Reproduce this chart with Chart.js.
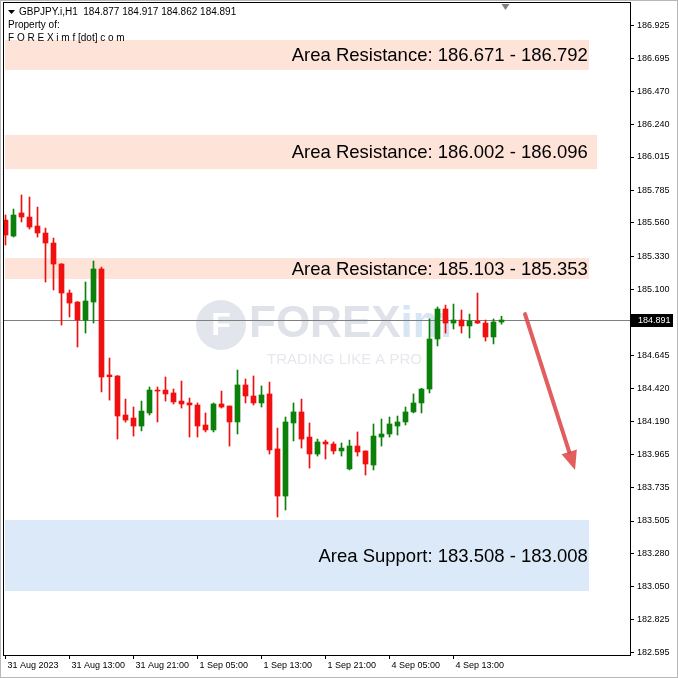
<!DOCTYPE html>
<html>
<head>
<meta charset="utf-8">
<script src="https://cdn.jsdelivr.net/npm/chart.js@4.4.0/dist/chart.umd.min.js"></script>
<style>
  html, body { margin: 0; padding: 0; background: #fff; }
</style>
</head>
<body>
<canvas id="myChart" width="678" height="678"></canvas>
<script>
// GBPJPY H1 candles (index 0 = first visible bar)
const opens = [185.580, 185.470, 185.629, 185.601, 185.539, 185.491, 185.422, 185.277, 185.077, 185.015,
  184.889, 185.015, 185.243, 184.512, 184.505, 184.236, 184.215, 184.160, 184.250, 184.408,
  184.408, 184.388, 184.332, 184.319, 184.305, 184.167, 184.133, 184.312, 184.298, 184.188,
  184.443, 184.367, 184.319, 184.381, 184.002, 183.677, 184.181, 184.257, 184.084, 183.967,
  184.050, 184.036, 183.988, 183.864, 184.022, 183.988, 183.891, 184.084, 184.105, 184.160,
  184.188, 184.257, 184.319, 184.415, 184.760, 184.967, 184.870, 184.891, 184.850, 184.884,
  184.870, 184.774, 184.877];
const highs = [185.615, 185.656, 185.753, 185.739, 185.670, 185.525, 185.456, 185.280, 185.098, 185.018,
  185.153, 185.298, 185.256, 184.629, 184.508, 184.346, 184.291, 184.332, 184.429, 184.429,
  184.498, 184.415, 184.470, 184.353, 184.319, 184.250, 184.319, 184.401, 184.298, 184.546,
  184.484, 184.505, 184.436, 184.463, 184.146, 184.222, 184.319, 184.346, 184.181, 184.070,
  184.063, 184.050, 184.043, 184.063, 184.119, 183.988, 184.174, 184.208, 184.222, 184.229,
  184.291, 184.381, 184.420, 184.898, 184.981, 184.994, 185.001, 184.960, 184.932, 185.077,
  184.891, 184.898, 184.917];
const lows = [185.408, 185.463, 185.567, 185.518, 185.463, 185.153, 185.098, 184.856, 184.912, 184.705,
  184.801, 184.870, 184.395, 184.339, 184.070, 184.187, 184.091, 184.126, 184.236, 184.188,
  184.332, 184.312, 184.284, 184.084, 184.084, 184.119, 184.119, 184.284, 184.022, 184.105,
  184.319, 184.305, 184.291, 183.967, 183.533, 183.581, 184.057, 184.008, 183.870, 183.953,
  183.932, 183.967, 183.953, 183.857, 183.953, 183.822, 183.857, 184.022, 184.084, 184.098,
  184.167, 184.250, 184.250, 184.388, 184.712, 184.801, 184.829, 184.801, 184.767, 184.867,
  184.746, 184.726, 184.862];
const closes = [185.477, 185.615, 185.601, 185.532, 185.491, 185.422, 185.277, 185.077, 185.008, 184.891,
  185.022, 185.243, 184.498, 184.500, 184.229, 184.201, 184.160, 184.263, 184.408, 184.401,
  184.381, 184.326, 184.312, 184.305, 184.160, 184.133, 184.312, 184.291, 184.188, 184.443,
  184.367, 184.319, 184.374, 183.995, 183.677, 184.188, 184.257, 184.070, 183.967, 184.050,
  184.036, 183.988, 184.008, 184.022, 183.981, 183.898, 184.091, 184.105, 184.174, 184.188,
  184.257, 184.319, 184.415, 184.760, 184.967, 184.870, 184.891, 184.850, 184.884, 184.870,
  184.774, 184.877, 184.891];

// axis labels
const priceTicks = [186.925, 186.695, 186.470, 186.240, 186.015, 185.785, 185.560, 185.330, 185.100,
  184.645, 184.420, 184.190, 183.965, 183.735, 183.505, 183.280, 183.050, 182.825, 182.595];
const timeTickIdx = [0, 8, 16, 24, 32, 40, 48, 56];
const timeLabels = ['31 Aug 2023', '31 Aug 13:00', '31 Aug 21:00', '1 Sep 05:00', '1 Sep 13:00',
  '1 Sep 21:00', '4 Sep 05:00', '4 Sep 13:00'];

// the shaded zones
const bandLow = [186.615, 185.932, 185.174, 183.022];
const bandHigh = [186.822, 186.167, 185.318, 183.512];
const bandEnd = [72.94, 73.94, 72.94, 72.94];
const bandText = ['Area Resistance: 186.671 - 186.792', 'Area Resistance: 186.002 - 186.096',
  'Area Resistance: 185.103 - 185.353', 'Area Support: 183.508 - 183.008'];
const bandIsSupport = [false, false, false, true];
const bandTextEnd = 72.8;

// forecast arrow [bar index, price]
const arrowFrom = [64.94, 184.932];
const arrowTo = [71.19, 183.857];

const symbol = 'GBPJPY.i,H1';
const xMin = -0.1875, xMax = 78.0625;
const yMin = 182.581, yMax = 187.077;

const idx = opens.map((_, i) => i);
const candleColor = idx.map(i => closes[i] >= opens[i] ? '#0b800b' : '#f01010');
const last = opens.length - 1;

const overlay = {
  id: 'overlay',
  beforeDatasetsDraw(chart) {
    const { ctx, chartArea: a, scales: { x, y } } = chart;
    ctx.save();
    ctx.beginPath();
    ctx.rect(a.left, a.top, a.right - a.left, a.bottom - a.top);
    ctx.clip();

    // watermark
    const cx = (a.left + a.right) / 2, cy = (a.top + a.bottom) / 2;
    ctx.fillStyle = '#e2e5ec';
    ctx.beginPath();
    ctx.arc(cx - 96, cy - 4, 25, 0, Math.PI * 2);
    ctx.fill();
    ctx.fillStyle = '#fff';
    ctx.font = 'bold 32px "Liberation Sans"';
    ctx.textAlign = 'center';
    ctx.textBaseline = 'middle';
    ctx.fillText('F', cx - 96, cy - 3);
    ctx.textAlign = 'left';
    ctx.font = 'bold 44px "Liberation Sans"';
    ctx.fillStyle = '#dfe2e9';
    ctx.fillText('FOREX', cx - 68, cy - 4);
    const fw = ctx.measureText('FOREX').width;
    ctx.fillStyle = '#d8e6f3';
    ctx.fillText('im', cx - 68 + fw, cy - 4);
    ctx.font = '15px "Liberation Sans"';
    ctx.fillStyle = '#e6e8ed';
    ctx.fillText('TRADING LIKE A PRO', cx - 50, cy + 31);

    // zones
    bandLow.forEach((lo, i) => {
      const top = y.getPixelForValue(bandHigh[i]);
      const bot = y.getPixelForValue(lo);
      const right = x.getPixelForValue(bandEnd[i]);
      ctx.fillStyle = bandIsSupport[i] ? '#dce9f8' : '#fde3d8';
      ctx.fillRect(a.left + 1, top, right - a.left - 1, bot - top);
      ctx.fillStyle = '#000';
      ctx.font = '18.5px "Liberation Sans"';
      ctx.textAlign = 'right';
      ctx.textBaseline = 'middle';
      ctx.fillText(bandText[i], x.getPixelForValue(bandTextEnd), (top + bot) / 2 + 1);
    });

    // current price line
    const py = Math.round(y.getPixelForValue(closes[last])) + 0.5;
    ctx.strokeStyle = '#808080';
    ctx.lineWidth = 1;
    ctx.beginPath();
    ctx.moveTo(a.left, py);
    ctx.lineTo(a.right, py);
    ctx.stroke();
    ctx.restore();
  },
  afterDraw(chart) {
    const { ctx, chartArea: a, scales: { x, y } } = chart;
    ctx.save();
    // frame
    ctx.strokeStyle = '#000';
    ctx.lineWidth = 1;
    ctx.strokeRect(a.left - 0.5, a.top - 0.5, a.right - a.left + 1, a.bottom - a.top + 1);
    ctx.strokeStyle = '#b8b8b8';
    ctx.strokeRect(0.5, 0.5, 677, 677);

    // arrow
    const x1 = x.getPixelForValue(arrowFrom[0]), y1 = y.getPixelForValue(arrowFrom[1]);
    const x2 = x.getPixelForValue(arrowTo[0]), y2 = y.getPixelForValue(arrowTo[1]);
    const ang = Math.atan2(y2 - y1, x2 - x1);
    const head = 19, half = 8;
    const bx = x2 - Math.cos(ang) * head, by = y2 - Math.sin(ang) * head;
    ctx.strokeStyle = 'rgba(222,72,72,0.88)';
    ctx.fillStyle = 'rgba(222,72,72,0.88)';
    ctx.lineWidth = 4;
    ctx.lineCap = 'round';
    ctx.beginPath();
    ctx.moveTo(x1, y1);
    ctx.lineTo(bx, by);
    ctx.stroke();
    ctx.beginPath();
    ctx.moveTo(x2, y2);
    ctx.lineTo(bx - Math.sin(ang) * half, by + Math.cos(ang) * half);
    ctx.lineTo(bx + Math.sin(ang) * half, by - Math.cos(ang) * half);
    ctx.closePath();
    ctx.fill();

    // current price tag
    const py = Math.round(y.getPixelForValue(closes[last]));
    ctx.fillStyle = '#000';
    ctx.fillRect(a.right + 1, py - 6, 42, 13);
    ctx.fillStyle = '#fff';
    ctx.font = '9px "Liberation Sans"';
    ctx.textAlign = 'left';
    ctx.textBaseline = 'middle';
    ctx.fillText(closes[last].toFixed(3), a.right + 8, py + 1);

    // header
    ctx.fillStyle = '#000';
    ctx.beginPath();
    ctx.moveTo(8, 10); ctx.lineTo(15, 10); ctx.lineTo(11.5, 14);
    ctx.closePath();
    ctx.fill();
    ctx.font = '10px "Liberation Sans"';
    ctx.fillText(symbol + '  ' + [opens[last], highs[last], lows[last], closes[last]].map(v => v.toFixed(3)).join(' '), 19, 12);
    ctx.fillText('Property of:', 8, 25);
    ctx.fillText('F O R E X i m f [dot] c o m', 8, 38);

    // chart shift marker
    const sx = x.getPixelForValue(last + 0.5);
    ctx.fillStyle = '#808080';
    ctx.beginPath();
    ctx.moveTo(sx - 4, a.top + 1); ctx.lineTo(sx + 4, a.top + 1); ctx.lineTo(sx, a.top + 7);
    ctx.closePath();
    ctx.fill();
    ctx.restore();
  }
};

const ctx = document.getElementById('myChart').getContext('2d');
const chart = new Chart(ctx, {
  type: 'bar',
  data: {
    datasets: [{
      label: 'body',
      data: idx.map(i => ({ x: i, y: [opens[i], closes[i]] })),
      backgroundColor: candleColor,
      borderWidth: 0,
      barThickness: 5,
      minBarLength: 1,
      grouped: false,
      order: 0
    }, {
      label: 'wick',
      data: idx.map(i => ({ x: i, y: [lows[i], highs[i]] })),
      backgroundColor: candleColor,
      borderWidth: 0,
      barThickness: 1,
      grouped: false,
      order: 1
    }]
  },
  options: {
    responsive: false,
    animation: false,
    layout: { padding: { left: 4, top: 3, right: 0, bottom: 0 } },
    plugins: { legend: { display: false }, tooltip: { enabled: false } },
    scales: {
      x: {
        type: 'linear', min: xMin, max: xMax, offset: false,
        afterBuildTicks: s => { s.ticks = timeTickIdx.map(v => ({ value: v })); },
        afterFit: s => { s.height = 23; s.paddingLeft = 0; s.paddingRight = 0; },
        grid: { drawOnChartArea: false, drawTicks: true, tickLength: 4, color: '#000', offset: false },
        border: { display: true, color: '#000' },
        ticks: {
          autoSkip: false, maxRotation: 0, align: 'start', labelOffset: 2, padding: 1,
          color: '#000', font: { family: 'Liberation Sans', size: 9 },
          callback: (v, i) => timeLabels[i]
        }
      },
      y: {
        type: 'linear', position: 'right', min: yMin, max: yMax,
        afterBuildTicks: s => { s.ticks = priceTicks.map(v => ({ value: v })); },
        afterFit: s => { s.width = 48; s.paddingTop = 0; s.paddingBottom = 0; },
        grid: { drawOnChartArea: false, drawTicks: true, tickLength: 4, color: '#000' },
        border: { display: true, color: '#000' },
        ticks: {
          autoSkip: false, padding: 3, color: '#000',
          font: { family: 'Liberation Sans', size: 9 },
          callback: v => v.toFixed(3)
        }
      }
    }
  },
  plugins: [overlay]
});
</script>
</body>
</html>
